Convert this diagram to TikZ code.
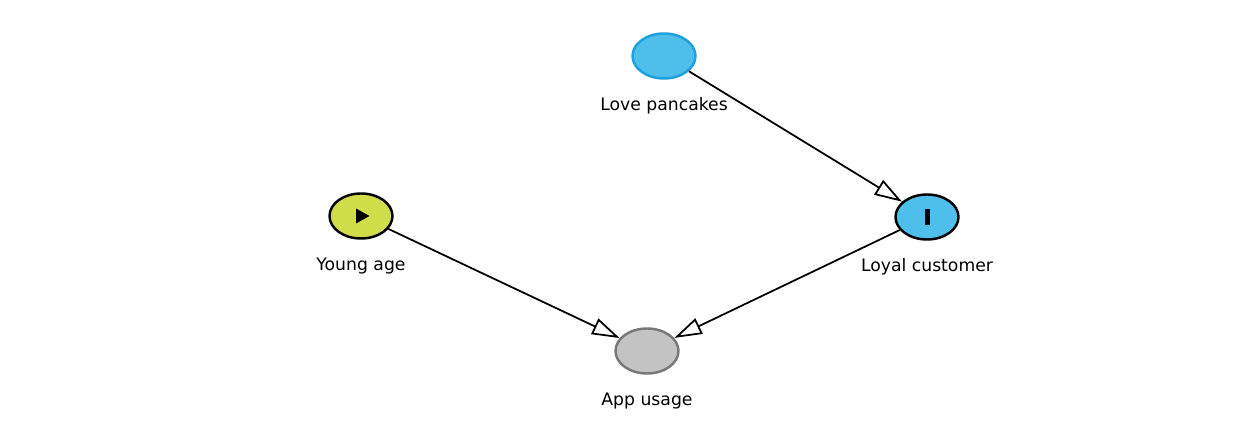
\documentclass[tikz,border=0pt]{standalone}
\usepackage{fontspec}
\setmainfont{DejaVu Sans}
\usetikzlibrary{arrows.meta,positioning,calc,shapes.geometric}

\definecolor{skyblue}{RGB}{78,190,235}
\definecolor{skyedge}{RGB}{30,160,220}
\definecolor{limegreen}{RGB}{207,222,72}
\definecolor{greyfill}{RGB}{195,195,195}
\definecolor{greyedge}{RGB}{120,120,120}

\begin{document}
\begin{tikzpicture}[every node/.style={ellipse,minimum width=1.26cm,minimum height=0.9cm,line width=1.4pt},
    lbl/.style={draw=none,fill=none,minimum width=0pt,minimum height=0pt,inner sep=1pt,font=\fontsize{9.8}{11}\selectfont},
    edge/.style={line width=1pt,-{Triangle[open,length=0.55cm,width=0.34cm,line width=1pt]}}]
    \useasboundingbox (0,0) rectangle (25.16,8.84);
    % variables
    \node[fill=skyblue,draw=skyedge] at (13.28,7.72) (pancakes) {};
    \node[fill=limegreen,draw=black] at (7.22,4.52) (young) {};
    \node[fill=skyblue,draw=black] at (18.54,4.50) (loyal) {};
    \node[fill=greyfill,draw=greyedge] at (12.94,1.82) (app) {};

    % labels
    \node[lbl,below=0.22cm of pancakes] (pancakesl) {Love pancakes};
    \node[lbl,below=0.22cm of young] (youngl) {Young age};
    \node[lbl,below=0.22cm of loyal] (loyall) {Loyal customer};
    \node[lbl,below=0.22cm of app] (appl) {App usage};

    % markers
    \fill ($(young)+(-0.1,0.15)$) -- ($(young)+(0.17,0)$) -- ($(young)+(-0.1,-0.15)$) -- cycle;
    \fill ($(loyal)+(-0.05,-0.16)$) rectangle ($(loyal)+(0.05,0.16)$);

    % connections
    \draw[edge] (pancakes) -- (loyal);
    \foreach \x in {young,loyal}
        \draw[edge] (\x) -- (app);
\end{tikzpicture}
\end{document}
